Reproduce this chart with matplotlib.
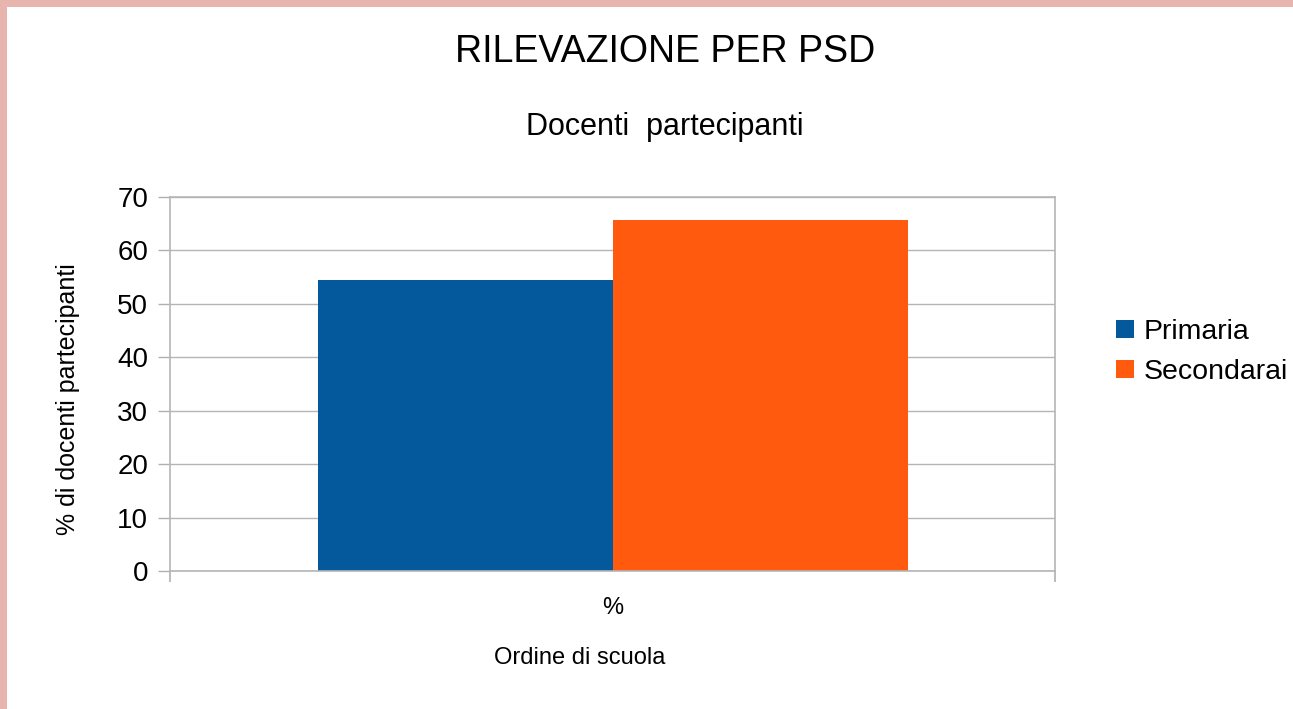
import matplotlib
matplotlib.use('Agg')
import matplotlib.pyplot as plt
from matplotlib.patches import Rectangle

# dati
categoria = ['%']
serie = ['Primaria', 'Secondarai']
valori = [54.5, 65.7]
colori = ['#03599b', '#ff5a0e']

plt.rcParams['font.family'] = ['Liberation Sans', 'DejaVu Sans']

fig = plt.figure(figsize=(12.93, 7.09), dpi=100)
fig.patch.set_facecolor('#e8b5ae')
# area bianca (bordo rosa in alto e a sinistra)
fig.patches.append(Rectangle((7 / 1293, 0), 1 - 7 / 1293, 1 - 7 / 709,
                             transform=fig.transFigure, facecolor='white',
                             edgecolor='none', zorder=-10))

ax = fig.add_axes([170 / 1293, 1 - 571 / 709, 885 / 1293, 374 / 709])
ax.set_facecolor('white')

w = 1 / 3
for i, (nome, v, c) in enumerate(zip(serie, valori, colori)):
    ax.bar(0 + (i - 0.5) * w, v, width=w, color=c, label=nome, zorder=2)

ax.set_xlim(-0.5, 0.5)
ax.set_ylim(0, 70)
ax.set_yticks(range(0, 71, 10))
ax.tick_params(axis='y', length=8.6, color='#b0b0b0', width=1.0,
               labelsize=20, pad=7)
ax.yaxis.grid(True, color='#b5b5b5', lw=1.0, zorder=1)

ax.set_xticks([0])
ax.set_xticklabels(categoria)
ax.tick_params(axis='x', which='major', length=0, labelsize=17, pad=19)
ax.set_xticks([-0.5, 0.5], minor=True)
ax.tick_params(axis='x', which='minor', length=8, color='#b0b0b0', width=1.2)

for s in ax.spines.values():
    s.set_color('#b5b5b5')
    s.set_linewidth(1.2)

fig.text(68 / 1293, 1 - 399 / 709, '% di docenti partecipanti', fontsize=18,
         rotation=90, ha='center', va='center')
fig.text(665 / 1293, 1 - 52 / 709, 'RILEVAZIONE PER PSD', fontsize=27,
         ha='center', va='center')
fig.text(665 / 1293, 1 - 127 / 709, 'Docenti  partecipanti', fontsize=22,
         ha='center', va='center')
fig.text(580 / 1293, 1 - 658 / 709, 'Ordine di scuola', fontsize=17,
         ha='center', va='center')

fig.legend(loc='center left', bbox_to_anchor=(1116 / 1293, 1 - 352 / 709),
           frameon=False, fontsize=20.5, handlelength=0.63, handleheight=0.63,
           handletextpad=0.33, labelspacing=0.5, borderpad=0, borderaxespad=0)

plt.savefig('out.png', dpi=100, facecolor=fig.get_facecolor())
